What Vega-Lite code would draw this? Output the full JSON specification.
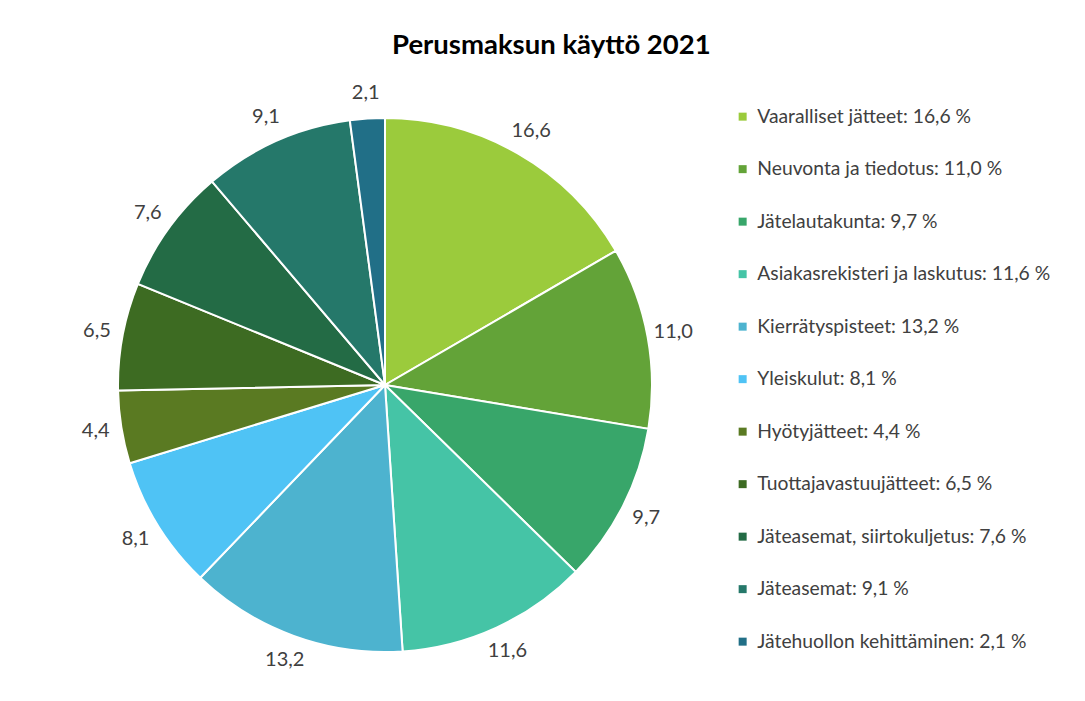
{
  "$schema": "https://vega.github.io/schema/vega-lite/v6.json",
  "width": 770,
  "height": 632,
  "autosize": {"type": "none"},
  "padding": {"left": 0, "top": 69, "right": 315, "bottom": 0},
  "background": "white",
  "config": {"view": {"stroke": null}, "font": "Lato"},
  "title": {
    "text": "Perusmaksun käyttö 2021",
    "font": "Lato",
    "fontSize": 27.5,
    "fontWeight": "bold",
    "color": "#000000",
    "anchor": "start",
    "dx": 392,
    "offset": 10
  },
  "data": {
    "values": [
      {"o": 1, "name": "Vaaralliset jätteet: 16,6 %", "txt": "16,6", "value": 16.6},
      {"o": 2, "name": "Neuvonta ja tiedotus: 11,0 %", "txt": "11,0", "value": 11.0},
      {"o": 3, "name": "Jätelautakunta: 9,7 %", "txt": "9,7", "value": 9.7},
      {"o": 4, "name": "Asiakasrekisteri ja laskutus: 11,6 %", "txt": "11,6", "value": 11.6},
      {"o": 5, "name": "Kierrätyspisteet: 13,2 %", "txt": "13,2", "value": 13.2},
      {"o": 6, "name": "Yleiskulut: 8,1 %", "txt": "8,1", "value": 8.1},
      {"o": 7, "name": "Hyötyjätteet: 4,4 %", "txt": "4,4", "value": 4.4},
      {"o": 8, "name": "Tuottajavastuujätteet: 6,5 %", "txt": "6,5", "value": 6.5},
      {"o": 9, "name": "Jäteasemat, siirtokuljetus: 7,6 %", "txt": "7,6", "value": 7.6},
      {"o": 10, "name": "Jäteasemat: 9,1 %", "txt": "9,1", "value": 9.1},
      {"o": 11, "name": "Jätehuollon kehittäminen: 2,1 %", "txt": "2,1", "value": 2.1}
    ]
  },
  "encoding": {
    "theta": {"field": "value", "type": "quantitative", "stack": true},
    "order": {"field": "o", "type": "quantitative", "sort": "ascending"}
  },
  "layer": [
    {
      "mark": {"type": "arc", "outerRadius": 267, "stroke": "white", "strokeWidth": 2},
      "encoding": {
        "color": {
          "field": "name",
          "type": "nominal",
          "scale": {
            "domain": [
              "Vaaralliset jätteet: 16,6 %",
              "Neuvonta ja tiedotus: 11,0 %",
              "Jätelautakunta: 9,7 %",
              "Asiakasrekisteri ja laskutus: 11,6 %",
              "Kierrätyspisteet: 13,2 %",
              "Yleiskulut: 8,1 %",
              "Hyötyjätteet: 4,4 %",
              "Tuottajavastuujätteet: 6,5 %",
              "Jäteasemat, siirtokuljetus: 7,6 %",
              "Jäteasemat: 9,1 %",
              "Jätehuollon kehittäminen: 2,1 %"
            ],
            "range": ["#9BCB3C", "#63A338", "#38A66A", "#45C4A6", "#4DB3CF", "#4FC3F5", "#5A7A22", "#3D6B22", "#236B45", "#25786A", "#216F87"]
          },
          "legend": {
            "orient": "none",
            "legendX": 733,
            "legendY": 38,
            "title": null,
            "symbolType": "square",
            "symbolSize": 64,
            "symbolStrokeWidth": 0,
            "labelFont": "Lato",
            "labelFontSize": 19.3,
            "labelColor": "#404040",
            "labelLimit": 400,
            "labelOffset": 5,
            "rowPadding": 32.5
          }
        }
      }
    },
    {
      "mark": {"type": "text", "radius": 293, "font": "Lato", "fontSize": 20, "color": "#404040"},
      "encoding": {
        "text": {"field": "txt", "type": "nominal"}
      }
    }
  ]
}
